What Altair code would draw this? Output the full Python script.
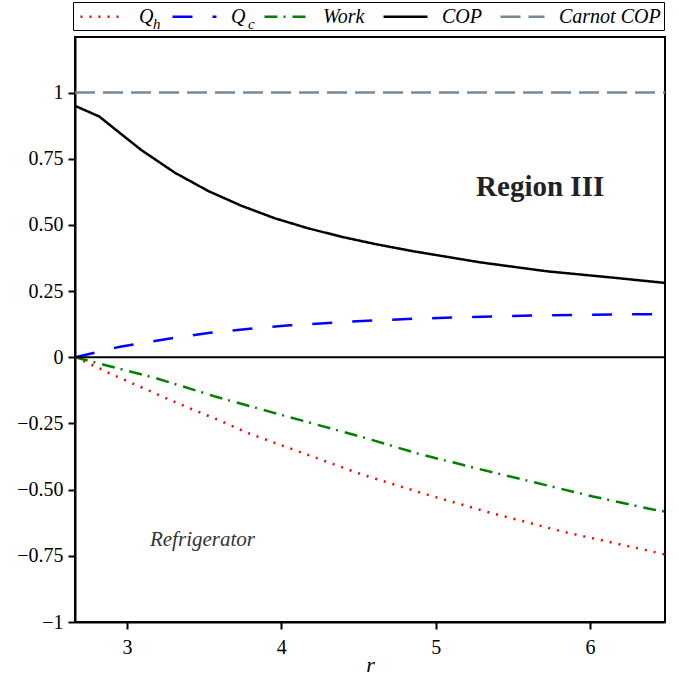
import altair as alt
import pandas as pd

FONT = "Liberation Serif"

series_names = ["Q_h", "Q_c", "Work", "COP", "Carnot COP"]
series_colors = ["#ff0000", "#0000ff", "#008000", "#000000", "#778899"]
series_dash = [[2, 7], [20, 20], [13, 6, 2, 7], [1, 0], [20, 8]]

r_qh = [2.663, 2.741, 2.909, 3.084, 3.259, 3.428, 3.603, 3.778, 3.881, 4.523, 4.944, 5.352, 5.826, 6.260, 6.486]
qh = [0.0, -0.020, -0.066, -0.111, -0.156, -0.198, -0.239, -0.285, -0.307, -0.443, -0.519, -0.587, -0.659, -0.715, -0.745]

r_qc = [2.663, 2.955, 3.279, 3.538, 3.797, 4.057, 4.335, 4.594, 4.879, 5.139, 5.404, 5.677, 5.949, 6.208, 6.486]
qc = [0.0, 0.040, 0.071, 0.093, 0.108, 0.121, 0.131, 0.139, 0.146, 0.151, 0.155, 0.158, 0.160, 0.162, 0.163]

r_work = [2.663, 2.844, 3.194, 3.571, 3.946, 4.316, 4.529, 4.886, 5.268, 5.644, 6.019, 6.408, 6.486]
work = [0.0, -0.027, -0.080, -0.148, -0.209, -0.268, -0.302, -0.364, -0.420, -0.473, -0.526, -0.575, -0.583]

r_cop = [2.663, 2.819, 2.922, 3.095, 3.311, 3.527, 3.743, 3.959, 4.175, 4.392, 4.607, 4.851, 5.285, 5.719, 6.147, 6.486]
cop = [0.950, 0.910, 0.862, 0.782, 0.697, 0.628, 0.572, 0.525, 0.487, 0.455, 0.428, 0.401, 0.359, 0.325, 0.301, 0.281]

r_carnot = [2.663, 6.486]
carnot = [1.0, 1.0]

x_ticks = [3, 4, 5, 6]
y_ticks = [-1, -0.75, -0.5, -0.25, 0, 0.25, 0.5, 0.75, 1]

rows = []
for name, rs, vs in [("Q_h", r_qh, qh), ("Q_c", r_qc, qc), ("Work", r_work, work),
                     ("COP", r_cop, cop), ("Carnot COP", r_carnot, carnot)]:
    for i, (r, v) in enumerate(zip(rs, vs)):
        rows.append({"series": name, "r": r, "value": v, "order": i})
df = pd.DataFrame(rows)

x_scale = alt.Scale(domain=[2.663, 6.486], nice=False, zero=False)
y_scale = alt.Scale(domain=[-1, 1.21], nice=False, zero=False)

leg = alt.Legend(
    orient="none", legendX=-2, legendY=-35, direction="horizontal", title=None,
    symbolType="M-1.1,0L3.3,0", symbolSize=400, symbolStrokeWidth=2.5, symbolOffset=4,
    labelFont=FONT, labelFontStyle="italic", labelFontSize=20, labelColor="black",
    strokeColor="black", padding=3, columnPadding=13, labelOffset=36,
    labelExpr="(datum.label == 'Q_h' || datum.label == 'Q_c') ? 'Q' : datum.label",
)

lines = alt.Chart(df).mark_line(strokeWidth=2.5, clip=True).encode(
    x=alt.X("r:Q", scale=x_scale,
            axis=alt.Axis(values=x_ticks, title="r", titleFontStyle="italic", titleFontSize=22,
                          titleFont=FONT, titleFontWeight="normal", titlePadding=-3, labelPadding=8,
                          labelExpr="format(datum.value, 'd')")),
    y=alt.Y("value:Q", scale=y_scale,
            axis=alt.Axis(values=y_ticks, title=None,
                          labelExpr="datum.value == 0 ? '0' : datum.value == 1 ? '1' : datum.value == -1 ? '\u22121' : datum.value < 0 ? '\u2212' + format(-datum.value, '.2f') : format(datum.value, '.2f')")),
    color=alt.Color("series:N", scale=alt.Scale(domain=series_names, range=series_colors), legend=leg),
    strokeDash=alt.StrokeDash("series:N", scale=alt.Scale(domain=series_names, range=series_dash), legend=leg),
    order="order:Q",
)

zero = alt.Chart(pd.DataFrame({"y": [0]})).mark_rule(color="black", strokeWidth=2).encode(
    y=alt.Y("y:Q", scale=y_scale))

ann_df = pd.DataFrame({"r": [5.677], "value": [0.645], "text": ["Region III"]})
region = alt.Chart(ann_df).mark_text(font=FONT, fontSize=29, fontWeight="bold", color="#222222").encode(
    x=alt.X("r:Q", scale=x_scale), y=alt.Y("value:Q", scale=y_scale), text="text:N")

ann2_df = pd.DataFrame({"r": [3.489], "value": [-0.692], "text": ["Refrigerator"]})
refrig = alt.Chart(ann2_df).mark_text(font=FONT, fontSize=21, fontStyle="italic", color="#333333").encode(
    x=alt.X("r:Q", scale=x_scale), y=alt.Y("value:Q", scale=y_scale), text="text:N")

sub_h = alt.Chart(pd.DataFrame({"text": ["h"]})).mark_text(
    font=FONT, fontSize=15, fontStyle="italic", align="left", baseline="alphabetic").encode(
    x=alt.value(78), y=alt.value(-8), text="text:N")
sub_c = alt.Chart(pd.DataFrame({"text": ["c"]})).mark_text(
    font=FONT, fontSize=15, fontStyle="italic", align="left", baseline="alphabetic").encode(
    x=alt.value(173), y=alt.value(-8), text="text:N")

chart = alt.layer(lines, zero, region, refrig, sub_h, sub_c).properties(
    width=590, height=585,
    padding={"left": 75, "top": 37, "right": 14, "bottom": 54},
    autosize=alt.AutoSizeParams(type="none"),
).configure_view(stroke="black", strokeWidth=2).configure_axis(
    labelFont=FONT, labelFontSize=20, labelColor="black", domainColor="black", domainWidth=2,
    tickColor="black", tickWidth=2, tickSize=7, grid=False, labelPadding=5, titleColor="black"
)

chart.save("out.html", embed_options={"renderer": "svg", "actions": False})
